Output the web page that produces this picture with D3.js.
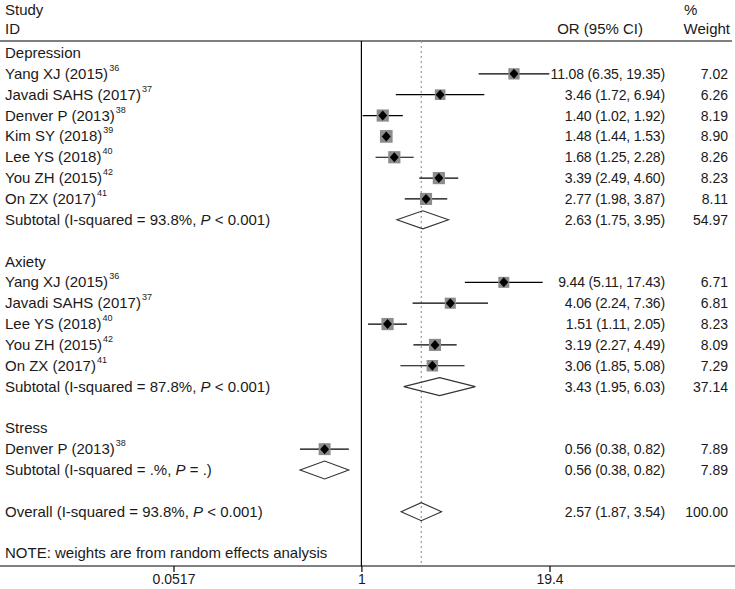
<!DOCTYPE html>
<html>
<head>
<meta charset="utf-8">
<script src="https://cdn.jsdelivr.net/npm/d3@7"></script>
<style>
  body { margin: 0; background: #fff; }
  text { font-family: "Liberation Sans", Arial, sans-serif; fill: #1a1a1a; }
</style>
</head>
<body>
<div id="chart"></div>
<script>
// study level data
var studyNames = ["Yang XJ (2015)", "Javadi SAHS (2017)", "Denver P (2013)", "Kim SY (2018)", "Lee YS (2018)", "You ZH (2015)", "On ZX (2017)",
                  "Yang XJ (2015)", "Javadi SAHS (2017)", "Lee YS (2018)", "You ZH (2015)", "On ZX (2017)",
                  "Denver P (2013)"];
var studyRefs = ["36", "37", "38", "39", "40", "42", "41", "36", "37", "40", "42", "41", "38"];
var studyGroup = [0, 0, 0, 0, 0, 0, 0, 1, 1, 1, 1, 1, 2];
var studyOR = [11.08, 3.46, 1.40, 1.48, 1.68, 3.39, 2.77, 9.44, 4.06, 1.51, 3.19, 3.06, 0.56];
var studyLo = [6.35, 1.72, 1.02, 1.44, 1.25, 2.49, 1.98, 5.11, 2.24, 1.11, 2.27, 1.85, 0.38];
var studyHi = [19.35, 6.94, 1.92, 1.53, 2.28, 4.60, 3.87, 17.43, 7.36, 2.05, 4.49, 5.08, 0.82];
var studyWeight = [7.02, 6.26, 8.19, 8.90, 8.26, 8.23, 8.11, 6.71, 6.81, 8.23, 8.09, 7.29, 7.89];

// subgroups
var groupNames = ["Depression", "Axiety", "Stress"];
var subI2 = ["93.8%", "87.8%", ".%"];
var subP = ["< 0.001", "< 0.001", "= ."];
var subOR = [2.63, 3.43, 0.56];
var subLo = [1.75, 1.95, 0.38];
var subHi = [3.95, 6.03, 0.82];
var subWeight = [54.97, 37.14, 7.89];

// overall
var overallOR = 2.57, overallLo = 1.87, overallHi = 3.54, overallWeight = 100.00;
var overallI2 = "93.8%", overallP = "< 0.001";

var tickValues = [0.0517, 1, 19.4];
var tickLabels = ["0.0517", "1", "19.4"];

var width = 735, height = 589;
var rowTop = 53, rowH = 20.85;
var topLine = 41, bottomLine = 566;
var labelSize = 15, numSize = 14;

var svg = d3.select("#chart").append("svg")
    .attr("width", width)
    .attr("height", height);

var x = d3.scaleLog()
    .domain([tickValues[0], tickValues[2]])
    .range([173.5, 549.5]);

var f2 = d3.format(".2f");

// build the row list
var rows = [];
groupNames.forEach(function(g, gi) {
  rows.push({type: "head", label: g});
  studyNames.forEach(function(s, i) {
    if (studyGroup[i] === gi)
      rows.push({type: "study", label: s, ref: studyRefs[i], or: studyOR[i], lo: studyLo[i], hi: studyHi[i], w: studyWeight[i]});
  });
  rows.push({type: "sub", label: "Subtotal", i2: subI2[gi], p: subP[gi], or: subOR[gi], lo: subLo[gi], hi: subHi[gi], w: subWeight[gi]});
  rows.push({type: "blank"});
});
rows.push({type: "sub", label: "Overall", i2: overallI2, p: overallP, or: overallOR, lo: overallLo, hi: overallHi, w: overallWeight});
rows.push({type: "blank"});
rows.push({type: "note", label: "NOTE: weights are from random effects analysis"});

function yc(i) { return rowTop + i * rowH; }

// headers
svg.append("text").attr("x", 5).attr("y", 15).attr("font-size", labelSize).text("Study");
svg.append("text").attr("x", 5).attr("y", 34).attr("font-size", labelSize).text("ID");
svg.append("text").attr("x", 643).attr("y", 34).attr("text-anchor", "end").attr("font-size", labelSize).text("OR (95% CI)");
svg.append("text").attr("x", 684).attr("y", 15).attr("font-size", labelSize).text("%");
svg.append("text").attr("x", 730).attr("y", 34).attr("text-anchor", "end").attr("font-size", labelSize).text("Weight");

// frame lines
svg.append("line").attr("x1", 0).attr("x2", 732).attr("y1", topLine).attr("y2", topLine)
  .attr("stroke", "#000").attr("stroke-width", 1.2);
svg.append("line").attr("x1", 0).attr("x2", 735).attr("y1", bottomLine).attr("y2", bottomLine)
  .attr("stroke", "#000").attr("stroke-width", 1.2);
svg.append("line").attr("x1", x(1)).attr("x2", x(1)).attr("y1", topLine).attr("y2", bottomLine)
  .attr("stroke", "#000").attr("stroke-width", 1.2);
svg.append("line").attr("x1", x(overallOR)).attr("x2", x(overallOR)).attr("y1", topLine).attr("y2", bottomLine)
  .attr("stroke", "#999").attr("stroke-width", 1.2).attr("stroke-dasharray", "2,3");

// x axis
var axis = svg.append("g")
  .attr("transform", "translate(0," + bottomLine + ")")
  .call(d3.axisBottom(x).tickValues(tickValues).tickSize(6).tickPadding(2)
        .tickFormat(function(d, i) { return tickLabels[i]; }));
axis.select(".domain").remove();
axis.selectAll("line").attr("stroke", "#000").attr("stroke-width", 1.2);
axis.selectAll("text").attr("font-size", 14).attr("font-family", "Liberation Sans, Arial, sans-serif").attr("fill", "#1a1a1a");

// rows
rows.forEach(function(r, i) {
  var y = yc(i);
  if (r.type === "head" || r.type === "note") {
    svg.append("text").attr("x", 5).attr("y", y + 5).attr("font-size", labelSize).text(r.label);
  }
  if (r.type === "study") {
    var t = svg.append("text").attr("x", 5).attr("y", y + 5).attr("font-size", labelSize);
    t.append("tspan").text(r.label);
    t.append("tspan").attr("font-size", 9).attr("dy", -8).attr("dx", 1).text(r.ref);

    svg.append("line").attr("x1", x(r.lo)).attr("x2", x(r.hi)).attr("y1", y).attr("y2", y)
      .attr("stroke", "#000").attr("stroke-width", 1.2);
    var s = 4.25 * Math.sqrt(r.w);
    svg.append("rect").attr("x", x(r.or) - s / 2).attr("y", y - s / 2).attr("width", s).attr("height", s)
      .attr("fill", "#8c8c8c");
    svg.append("path")
      .attr("d", "M" + (x(r.or) - 4.5) + "," + y + "L" + x(r.or) + "," + (y - 5) + "L" + (x(r.or) + 4.5) + "," + y + "L" + x(r.or) + "," + (y + 5) + "Z")
      .attr("fill", "#000");
  }
  if (r.type === "sub") {
    var t2 = svg.append("text").attr("x", 5).attr("y", y + 5).attr("font-size", labelSize);
    t2.append("tspan").text(r.label + " (I-squared = " + r.i2 + ", ");
    t2.append("tspan").attr("font-style", "italic").text("P");
    t2.append("tspan").text(" " + r.p + ")");
    svg.append("path")
      .attr("d", "M" + x(r.lo) + "," + y + "L" + x(r.or) + "," + (y - 9) + "L" + x(r.hi) + "," + y + "L" + x(r.or) + "," + (y + 9) + "Z")
      .attr("fill", "#fff").attr("fill-opacity", 0).attr("stroke", "#333").attr("stroke-width", 1.1);
  }
  if (r.type === "study" || r.type === "sub") {
    svg.append("text").attr("x", 665).attr("y", y + 5).attr("text-anchor", "end").attr("font-size", numSize)
      .attr("letter-spacing", -0.15)
      .text(f2(r.or) + " (" + f2(r.lo) + ", " + f2(r.hi) + ")");
    svg.append("text").attr("x", 728).attr("y", y + 5).attr("text-anchor", "end").attr("font-size", numSize)
      .text(f2(r.w));
  }
});
</script>
</body>
</html>
